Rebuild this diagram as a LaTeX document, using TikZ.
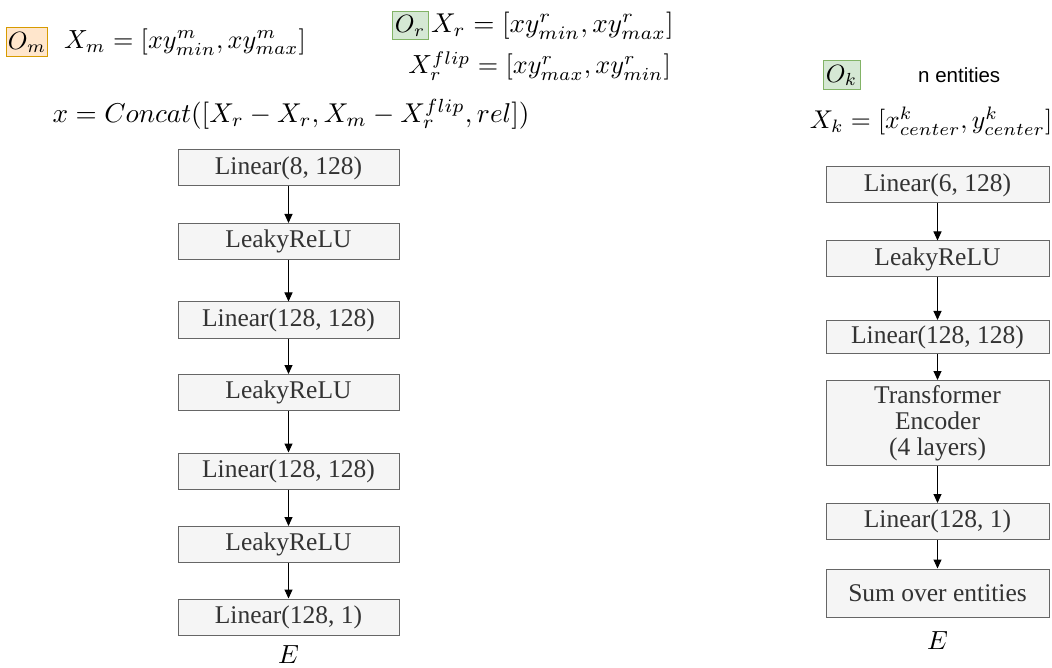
\documentclass[tikz,border=0pt]{standalone}
\usepackage{fontspec}
\setmainfont{Liberation Serif}
\newfontfamily\sansf{Liberation Sans}
\usetikzlibrary{arrows.meta}
\newcommand\eqsc[2][2.62]{\scalebox{#1}{$#2$}}
\definecolor{boxfill}{HTML}{F5F5F5}
\definecolor{boxdraw}{HTML}{666666}
\definecolor{boxtext}{HTML}{333333}
\definecolor{orfill}{HTML}{FFE6CC}
\definecolor{ordraw}{HTML}{D79B00}
\definecolor{grfill}{HTML}{D5E8D4}
\definecolor{grdraw}{HTML}{82B366}
\begin{document}
\begin{tikzpicture}[x=1pt,y=-1pt,
  blk/.style={draw=boxdraw, fill=boxfill, text=boxtext, line width=1pt, inner sep=0pt,
    font=\fontsize{25.5}{26}\selectfont, align=center},
  lblk/.style={blk, minimum width=221pt, minimum height=36pt},
  rblk/.style={blk, minimum width=223pt, minimum height=36pt},
  arr/.style={-{Triangle[length=9pt,width=8pt]}, line width=1pt, black},
  obox/.style={inner sep=1pt, line width=1pt},
  eq/.style={inner sep=0pt}]
\useasboundingbox (0,0) rectangle (1052,668);

% top formulas
\node[obox, draw=ordraw, fill=orfill, minimum width=38pt, minimum height=29pt] (om) at (27,42.5) {\eqsc[2.5]{O_m}};
\node[eq, anchor=west] (xm) at (64,42) {\eqsc{X_m = [xy^m_{min}, xy^m_{max}]}};
\node[obox, draw=grdraw, fill=grfill, minimum width=36pt, minimum height=28pt] (or) at (410,26) {\eqsc[2.5]{O_r}};
\node[eq, anchor=west] (xr) at (431,26) {\eqsc[2.72]{X_r = [xy^r_{min}, xy^r_{max}]}};
\node[eq, anchor=east] (xrf) at (671,66) {\eqsc{X^{flip}_r = [xy^r_{max}, xy^r_{min}]}};
\node[eq] (cat) at (291,114) {\eqsc[2.72]{x = Concat([X_r - X_r, X_m - X^{flip}_r, rel])}};

\node[obox, draw=grdraw, fill=grfill, minimum width=37pt, minimum height=29pt] (ok) at (841.5,75.5) {\eqsc[2.5]{O_k}};
\node[inner sep=0pt, font=\sansf\fontsize{20.5}{22}\selectfont, anchor=west] (ne) at (918,75) {n entities};
\node[eq] (xk) at (931,121) {\eqsc[2.57]{X_k = [x^k_{center}, y^k_{center}]}};

% left column
\node[lblk] (l1) at (288.5,168) {Linear(8, 128)};
\node[lblk] (l2) at (288.5,241.5) {LeakyReLU};
\node[lblk] (l3) at (288.5,320) {Linear(128, 128)};
\node[lblk] (l4) at (288.5,392.5) {LeakyReLU};
\node[lblk] (l5) at (288.5,471) {Linear(128, 128)};
\node[lblk] (l6) at (288.5,544.5) {LeakyReLU};
\node[lblk] (l7) at (288.5,617) {Linear(128, 1)};
\node[eq] (le) at (288.5,655) {\eqsc{E}};
\foreach \a/\b in {l1/l2,l2/l3,l3/l4,l4/l5,l5/l6,l6/l7}
  \draw[arr] (\a) -- (\b);

% right column
\node[rblk] (r1) at (937.5,185) {Linear(6, 128)};
\node[rblk] (r2) at (937.5,259) {LeakyReLU};
\node[rblk, minimum height=33pt] (r3) at (937.5,337) {Linear(128, 128)};
\node[rblk, minimum height=85pt] (r4) at (937.5,423) {Transformer\\Encoder\\(4 layers)};
\node[rblk] (r5) at (937.5,521.5) {Linear(128, 1)};
\node[rblk, minimum height=48pt] (r6) at (937.5,593) {Sum over entities};
\node[eq] (re) at (937.5,641) {\eqsc{E}};
\foreach \a/\b in {r1/r2,r2/r3,r3/r4,r4/r5,r5/r6}
  \draw[arr] (\a) -- (\b);
\end{tikzpicture}
\end{document}
